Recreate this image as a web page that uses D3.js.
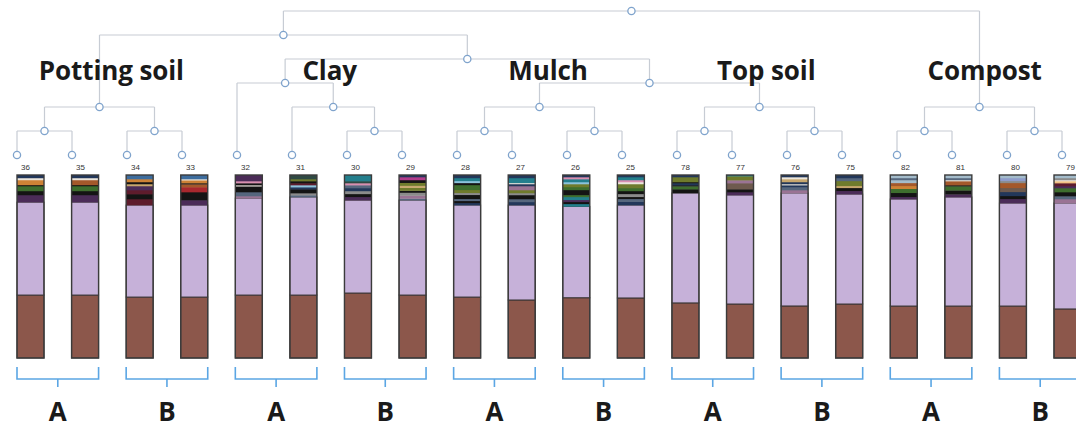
<!DOCTYPE html>
<html>
<head>
<meta charset="utf-8">
<script src="https://cdn.jsdelivr.net/npm/d3@7"></script>
<style>
  html, body { margin: 0; padding: 0; background: #fff; overflow: hidden; }
  svg { display: block; }
</style>
</head>
<body>
<svg id="chart" width="1076" height="430"></svg>
<script>
// ---------------- DATA ----------------
const sampleIds = ["36","35","34","33","32","31","30","29","28","27","26","25","78","77","76","75","82","81","80","79"];
const soilTypes = ["Potting soil","Clay","Mulch","Top soil","Compost"];
const pairLabels = ["A","B","A","B","A","B","A","B","A","B"];

// dominant taxa (% of reads)
const brownShare    = [34.4,34.4,33.3,33.3,34.4,34.4,35.5,34.4,33.3,31.7,32.8,32.8,30.1,29.5,28.4,29.5,28.4,28.4,28.4,26.8];
const lavenderShare = [50.8,50.8,50.3,50.3,53.0,53.6,50.8,51.9,50.3,51.9,49.7,50.8,60.1,59.6,61.7,60.1,58.5,59.6,56.3,57.9];

// minor taxa ids
const minorTaxa = ["OTU01","OTU02","OTU03","OTU04","OTU05","OTU06","OTU07","OTU08","OTU09","OTU10","OTU11","OTU12",
                   "OTU13","OTU14","OTU15","OTU16","OTU17","OTU18","OTU19","OTU20","OTU21","OTU22","OTU23","OTU24"];
// minor taxa per sample, listed top to bottom: [taxon index, %]
const minorShares = [
  [[0,1.6],[2,1.1],[3,2.7],[6,0.6],[5,2.7],[6,2.2],[7,3.9]],
  [[0,1.6],[2,1.1],[4,2.7],[6,0.6],[5,2.7],[6,2.2],[7,3.9]],
  [[1,2.2],[3,1.6],[6,1.1],[15,1.1],[7,2.2],[9,2.2],[6,2.7],[9,3.3]],
  [[1,2.2],[2,0.6],[3,1.6],[6,0.6],[4,1.6],[8,2.7],[6,4.4],[7,2.7]],
  [[7,3.3],[12,1.1],[6,1.1],[2,0.6],[6,3.2],[17,2.2],[18,1.1]],
  [[22,2.2],[14,1.1],[6,1.1],[9,1.1],[11,1.1],[0,1.1],[6,2.2],[16,1.1],[17,1.0]],
  [[10,3.3],[22,1.1],[12,1.1],[17,1.6],[0,1.6],[16,1.6],[6,1.6],[7,1.8]],
  [[0,1.1],[13,1.6],[6,1.5],[14,1.6],[15,1.1],[14,1.6],[6,1.1],[16,1.6],[18,1.6],[17,0.9]],
  [[0,1.6],[10,1.6],[11,1.1],[6,1.1],[5,2.7],[14,1.6],[16,1.1],[6,2.2],[17,1.1],[6,1.1],[0,1.2]],
  [[0,1.6],[10,2.7],[2,0.6],[0,1.1],[18,2.2],[14,1.6],[16,1.1],[6,2.2],[17,1.6],[0,1.7]],
  [[0,1.1],[12,1.1],[10,1.6],[11,1.1],[14,1.6],[5,1.6],[6,2.7],[5,1.1],[10,1.6],[7,1.1],[6,1.1],[10,1.4]],
  [[0,1.1],[10,1.6],[12,1.1],[2,1.1],[14,2.2],[5,1.6],[6,1.6],[16,1.6],[6,1.1],[17,1.6],[0,1.8]],
  [[0,1.1],[14,2.7],[6,0.6],[0,1.1],[6,0.6],[5,1.6],[6,2.1]],
  [[10,0.6],[14,2.2],[18,1.6],[23,3.3],[6,1.6],[7,1.6]],
  [[0,1.1],[2,1.1],[15,1.6],[0,1.1],[2,0.6],[0,1.1],[17,1.6],[18,1.6]],
  [[0,1.6],[17,1.6],[14,2.7],[15,1.1],[6,1.6],[7,1.8]],
  [[19,1.6],[17,1.1],[19,1.6],[4,1.6],[3,1.6],[5,2.2],[6,2.2],[7,1.2]],
  [[19,1.6],[17,1.1],[2,0.6],[4,2.2],[6,0.6],[5,2.2],[6,2.2],[7,1.5]],
  [[19,1.6],[20,1.6],[16,1.1],[4,2.7],[23,2.2],[0,2.2],[6,1.6],[7,2.3]],
  [[19,1.6],[16,1.1],[2,0.6],[21,1.1],[9,1.6],[7,1.1],[5,2.2],[6,2.2],[17,1.6],[18,2.2]]
];

// clustering tree (leaves are sample ids)
const clusterTree = {children: [
  {children: [
    {soil: "Potting soil", children: [{children: [{id:"36"},{id:"35"}]}, {children: [{id:"34"},{id:"33"}]}]},
    {children: [
      {soil: "Clay", children: [{id:"32"}, {children: [{id:"31"}, {children: [{id:"30"},{id:"29"}]}]}]},
      {children: [
        {soil: "Mulch", children: [{children: [{id:"28"},{id:"27"}]}, {children: [{id:"26"},{id:"25"}]}]},
        {soil: "Top soil", children: [{children: [{id:"78"},{id:"77"}]}, {children: [{id:"76"},{id:"75"}]}]}
      ]}
    ]}
  ]},
  {soil: "Compost", children: [{children: [{id:"82"},{id:"81"}]}, {children: [{id:"80"},{id:"79"}]}]}
]};

// ---------------- STYLE ----------------
const brownColor = "#8c574b";
const lavenderColor = "#c6b1d9";
const minorColors = ["#22375a","#3d6d9e","#ece6dc","#cd8236","#a4582b","#3e6e2e","#141414","#4b2c58",
                     "#a8282e","#5e1c2c","#237f8d","#8cc3dc","#d98fb0","#b23c8c","#6f7b2c","#c7a76d",
                     "#8b8b8b","#56677e","#9a7394","#a4bccb","#8f9dcb","#f1c283","#2f4a44","#6e5a4e"];
const taxonColor = d3.scaleOrdinal().domain(minorTaxa).range(minorColors);

const svg = d3.select("#chart");
const barW = 27;
const barX = d3.scalePoint().domain(sampleIds).range([17, 1054]);
const leafX = d3.scalePoint().domain(sampleIds).range([17, 1062]);
const levelY = d3.scaleLinear().domain([0, 6]).range([155, 11]);
const barTop = 175, barBottom = 358;

// ---------------- DENDROGRAM ----------------
const root = d3.hierarchy(clusterTree);
root.eachAfter(n => {
  n.px = n.children ? d3.mean(n.children, c => c.px) : leafX(n.data.id);
  n.py = levelY(n.height);
});
const gTree = svg.append("g");
const linkPath = [];
root.each(n => {
  if (n.children) {
    const xs = n.children.map(c => c.px);
    linkPath.push(`M${d3.min(xs)},${n.py}H${d3.max(xs)}`);
    n.children.forEach(c => linkPath.push(`M${c.px},${n.py}V${c.py}`));
  }
});
gTree.append("path").attr("d", linkPath.join("")).attr("fill", "none")
  .attr("stroke", "#c7ccd4").attr("stroke-width", 1.2);
gTree.selectAll("circle").data(root.descendants()).join("circle")
  .attr("cx", d => d.px).attr("cy", d => d.py).attr("r", 3.6)
  .attr("fill", "#fff").attr("stroke", "#7fa3cc").attr("stroke-width", 1.3);

gTree.selectAll("text.leaf").data(root.leaves()).join("text").attr("class", "leaf")
  .attr("x", d => d.px + 4).attr("y", 170)
  .attr("font-family", "Liberation Sans Narrow, Liberation Sans, sans-serif").attr("font-size", 8)
  .attr("fill", "#333").text(d => d.data.id);

// soil labels centred on their bars
svg.append("g").selectAll("text").data(root.descendants().filter(n => n.data.soil)).join("text")
  .attr("x", d => { const ids = d.leaves().map(l => l.data.id);
    return (d3.min(ids, id => barX(id)) + d3.max(ids, id => barX(id)) + barW) / 2 - 1; })
  .attr("y", 80).attr("text-anchor", "middle")
  .attr("font-family", "Open Sans, sans-serif").attr("font-weight", 700).attr("font-size", 26)
  .attr("letter-spacing", -0.1).attr("fill", "#1a1a1a").text(d => d.data.soil);

// ---------------- STACKED BARS ----------------
const gBars = svg.append("g");
sampleIds.forEach((id, i) => {
  const segs = [{v: brownShare[i], c: brownColor, major: true},
                {v: lavenderShare[i], c: lavenderColor, major: true}]
    .concat(minorShares[i].slice().reverse().map(([t, v]) => ({v, c: taxonColor(minorTaxa[t])})));
  const total = d3.sum(segs, s => s.v);
  const y = d3.scaleLinear().domain([0, total]).range([barBottom, barTop]);
  const ends = Array.from(d3.cumsum(segs, s => s.v));
  const g = gBars.append("g");
  segs.forEach((s, k) => {
    const y0 = k === 0 ? 0 : ends[k - 1], y1 = ends[k];
    g.append("rect").attr("x", barX(id)).attr("width", barW)
      .attr("y", y(y1)).attr("height", y(y0) - y(y1) + (s.major ? 0 : 0.3))
      .attr("fill", s.c)
      .attr("stroke", s.major ? "#3a3535" : "none").attr("stroke-width", s.major ? 1 : 0);
  });
  g.append("rect").attr("x", barX(id)).attr("y", barTop).attr("width", barW)
    .attr("height", barBottom - barTop).attr("fill", "none")
    .attr("stroke", "#3b3b3b").attr("stroke-width", 1.4);
});

// ---------------- BRACKETS ----------------
const gBr = svg.append("g");
pairLabels.forEach((lab, p) => {
  const x0 = barX(sampleIds[2 * p]), x1 = barX(sampleIds[2 * p + 1]) + barW;
  const mid = (x0 + x1) / 2;
  gBr.append("path").attr("d", `M${x0},367V379H${x1}V367M${mid},379V387`)
    .attr("fill", "none").attr("stroke", "#5ba6e4").attr("stroke-width", 1.6);
  gBr.append("text").attr("x", mid).attr("y", 421).attr("text-anchor", "middle")
    .attr("font-family", "Open Sans, sans-serif").attr("font-weight", 700).attr("font-size", 26)
    .attr("fill", "#1a1a1a").text(lab);
});
</script>
</body>
</html>
